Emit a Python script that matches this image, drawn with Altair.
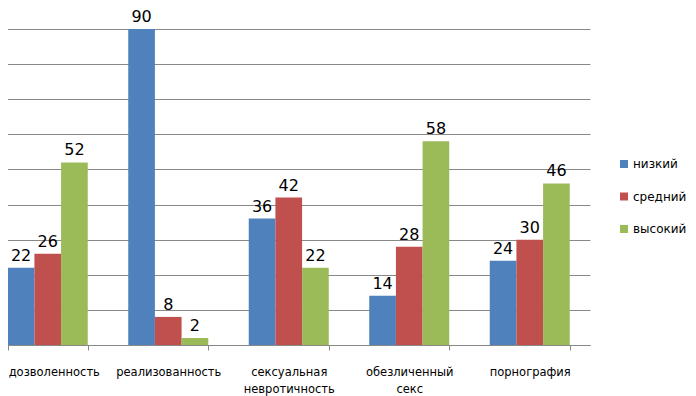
import altair as alt
import pandas as pd

categories = ["дозволенность", "реализованность", "сексуальная\nневротичность", "обезличенный\nсекс", "порнография"]
series = ["низкий", "средний", "высокий"]
low = [22, 90, 36, 14, 24]
mid = [26, 8, 42, 28, 30]
high = [52, 2, 22, 58, 46]
colors = ["#4F81BD", "#C0504D", "#9BBB59"]

rows = []
for i, c in enumerate(categories):
    for s, vals in zip(series, [low, mid, high]):
        rows.append({"cat": c, "series": s, "value": vals[i]})
df = pd.DataFrame(rows)

x = alt.X("cat:N", sort=categories, title=None,
          scale=alt.Scale(range=[-20.5, 582], paddingInner=0.336, paddingOuter=0.168),
          axis=alt.Axis(labelAngle=0, tickBand="extent", domainColor="#888888", tickColor="#888888",
                        tickSize=5, labelPadding=16, labelBaseline="top",
                        labelOffset=alt.ExprRef(expr="datum.index === 0 ? 6 : 0"),
                        labelExpr="split(datum.label, '\\n')", labelFont="DejaVu Sans",
                        labelFontSize=11.5, labelColor="#000000", labelLineHeight=17, labelLimit=200))
y = alt.Y("value:Q", title=None, scale=alt.Scale(domain=[0, 90], nice=False),
          axis=alt.Axis(labels=False, ticks=False, domain=False, grid=True, gridColor="#888888",
                        values=list(range(0, 91, 10))))
xo = alt.XOffset("series:N", sort=series, scale=alt.Scale(paddingInner=0, paddingOuter=0))

bars = alt.Chart(df).mark_bar().encode(
    x=x, y=y, xOffset=xo,
    color=alt.Color("series:N", sort=series, scale=alt.Scale(domain=series, range=colors),
                    legend=alt.Legend(title=None, orient="none", legendX=610, legendY=129,
                                      symbolType="square", symbolSize=64, symbolStrokeWidth=0,
                                      labelFont="DejaVu Sans", labelFontSize=12, rowPadding=20.5,
                                      labelOffset=3, labelColor="#000000", labelLimit=200))
)
labels = alt.Chart(df).mark_text(baseline="alphabetic", dy=-7, font="DejaVu Sans", fontSize=16,
                                 color="#000000").encode(
    x=x, y=y, xOffset=xo, text="value:Q"
)

chart = (bars + labels).properties(
    width=582, height=316,
    padding={"top": 21, "left": 0, "right": 98, "bottom": 51},
    autosize=alt.AutoSizeParams(type="none"),
).configure_view(stroke=None)

chart.save("out.html", embed_options={"renderer": "svg", "actions": False})
